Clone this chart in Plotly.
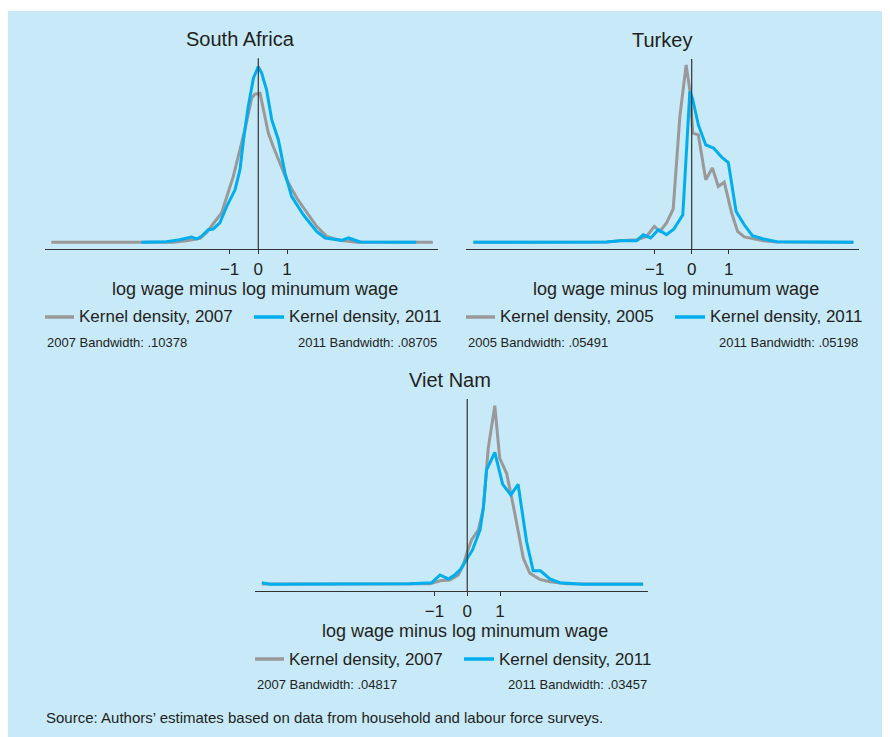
import plotly.graph_objects as go

# ---------------- data ----------------
sa_x_2007 = [-7.21, -2.97, -2.5, -2.03, -1.8, -1.28, -0.87, -0.64, -0.47, -0.23, -0.12, 0.06,
             0.35, 0.52, 0.99, 1.34, 1.69, 2.03, 2.38, 2.85, 3.43, 6.08]
sa_y_2007 = [0, 0, .008, .02, .05, .147, .33, .463, .563, .722, .742, .747,
             .547, .48, .313, .222, .147, .08, .03, .01, 0, 0]
sa_x_2011 = [-4.07, -3.2, -2.73, -2.33, -2.15, -1.98, -1.74, -1.57, -1.34, -1.1, -0.81, -0.64,
             -0.5, -0.35, -0.17, 0.0, 0.12, 0.29, 0.47, 0.7, 0.93, 1.16, 1.57, 2.03, 2.33,
             2.73, 2.91, 3.14, 3.37, 3.55, 5.5]
sa_y_2011 = [0, .003, .013, .027, .017, .03, .063, .067, .097, .18, .263, .363,
             .53, .68, .822, .88, .847, .763, .613, .513, .347, .23, .138, .055, .022,
             .013, .01, .022, .01, .002, 0]

tr_x_2005 = [-5.9, -2.3, -1.94, -1.49, -1.22, -1.01, -0.86, -0.68, -0.5, -0.32, -0.15, -0.05,
             0.03, 0.18, 0.38, 0.56, 0.72, 0.88, 1.08, 1.24, 1.42, 1.67, 1.94, 2.3, 4.37]
tr_y_2005 = [0, .002, .008, .013, .03, .08, .055, .097, .167, .63, .888, .763,
             .547, .538, .313, .372, .28, .302, .147, .055, .027, .018, .008, .002, 0]
tr_x_2011 = [-5.9, -2.3, -1.94, -1.49, -1.31, -1.11, -0.9, -0.68, -0.48, -0.24, -0.05, 0.02,
             0.18, 0.38, 0.59, 0.81, 0.99, 1.2, 1.42, 1.64, 1.94, 2.3, 4.37]
tr_y_2011 = [0, .002, .008, .008, .038, .022, .063, .038, .067, .138, .755, .722,
             .588, .488, .472, .427, .4, .155, .088, .033, .017, .003, 0]

vn_x_2007 = [-6.26, -1.75, -1.14, -0.83, -0.53, -0.27, -0.12, 0, 0.13, 0.34, 0.49, 0.64,
             0.84, 0.99, 1.2, 1.4, 1.71, 1.91, 2.21, 2.52, 3.03, 5.36]
vn_y_2007 = [.002, .003, .003, .018, .022, .047, .097, .163, .222, .272, .38, .68,
             .893, .63, .555, .397, .13, .055, .025, .013, .003, .002]
vn_x_2011 = [-6.26, -6.01, -1.75, -1.09, -0.83, -0.58, -0.38, -0.22, 0, 0.16, 0.39, 0.49,
             0.59, 0.84, 1.08, 1.33, 1.55, 1.81, 2.01, 2.23, 2.52, 2.82, 3.53, 5.36]
vn_y_2011 = [.008, 0, .003, .008, .047, .027, .047, .072, .13, .172, .272, .38,
             .572, .66, .5, .447, .5, .213, .068, .068, .027, .008, 0, 0]

tick_vals = [-1, 0, 1]
tick_text = ["\u22121", "0", "1"]
x_title = "log wage minus log minumum wage"
source_text = "Source: Authors\u2019 estimates based on data from household and labour force surveys."

panels = [
    dict(title="South Africa", xa="x", ya="y",
         xs=(sa_x_2007, sa_y_2007, sa_x_2011, sa_y_2011),
         leg=("Kernel density, 2007", "Kernel density, 2011"),
         bw=("2007 Bandwidth: .10378", "2011 Bandwidth: .08705"),
         px=(45, 438), py=(58.3, 249), xr=(-7.43, 6.26), yr=(-0.0333, 0.9217)),
    dict(title="Turkey", xa="x2", ya="y2",
         xs=(tr_x_2005, tr_y_2005, tr_x_2011, tr_y_2011),
         leg=("Kernel density, 2005", "Kernel density, 2011"),
         bw=("2005 Bandwidth: .05491", "2011 Bandwidth: .05198"),
         px=(466, 859.3), py=(59, 249), xr=(-6.1, 4.53), yr=(-0.0333, 0.9183)),
    dict(title="Viet Nam", xa="x3", ya="y3",
         xs=(vn_x_2007, vn_y_2007, vn_x_2011, vn_y_2011),
         leg=("Kernel density, 2007", "Kernel density, 2011"),
         bw=("2007 Bandwidth: .04817", "2011 Bandwidth: .03457"),
         px=(255, 648), py=(399, 591), xr=(-6.47, 5.51), yr=(-0.0333, 0.9267)),
]

# the page body adds an 8px offset; the figure is sized so it fills the window
OFF = 8
W, H = 890 - OFF, 737 - OFF
FONT = "Liberation Sans, Arial, sans-serif"
TXT = "#231f20"
GRAY = "#999999"
BLUE = "#00aeef"
BG = "#c7e9f8"


def fx(p):
    return (p - OFF) / W


def fy(p):
    return 1 - (p - OFF) / H


fig = go.Figure()
shapes = [dict(type="rect", xref="paper", yref="paper", x0=0, x1=1, y0=0, y1=fy(11),
               fillcolor=BG, line=dict(width=0), layer="below")]
annotations = []
layout_axes = {}

for i, p in enumerate(panels):
    n = "" if i == 0 else str(i + 1)
    gx, gy, bx, by = p["xs"]
    fig.add_trace(go.Scatter(x=gx, y=gy, mode="lines", xaxis=p["xa"], yaxis=p["ya"],
                             line=dict(color=GRAY, width=3), showlegend=False,
                             name=p["leg"][0]))
    fig.add_trace(go.Scatter(x=bx, y=by, mode="lines", xaxis=p["xa"], yaxis=p["ya"],
                             line=dict(color=BLUE, width=3), showlegend=False,
                             name=p["leg"][1]))
    x0, x1 = p["px"]
    y0, y1 = p["py"]
    layout_axes["xaxis" + n] = dict(domain=[fx(x0), fx(x1)], range=list(p["xr"]),
                                    anchor=p["ya"], showgrid=False, zeroline=False,
                                    showline=True, linecolor="#333333", linewidth=1.2,
                                    ticks="outside", ticklen=4, tickwidth=1, tickcolor="#333333",
                                    tickvals=tick_vals, ticktext=tick_text,
                                    tickfont=dict(family=FONT, size=17, color=TXT),
                                    fixedrange=True)
    layout_axes["yaxis" + n] = dict(domain=[fy(y1), fy(y0)], range=list(p["yr"]),
                                    anchor=p["xa"], showgrid=False, zeroline=False,
                                    showline=False, showticklabels=False, ticks="",
                                    fixedrange=True)
    # zero reference line
    shapes.append(dict(type="line", xref=p["xa"], yref=p["ya"] + " domain", x0=0, x1=0,
                       y0=0, y1=1, line=dict(color="#333333", width=1.2)))
    # title
    annotations.append(dict(text=p["title"], xref="paper", yref="paper",
                            x=fx((x0 + x1) / 2 - 1), y=fy(y0 - 19), xanchor="center",
                            yanchor="middle", showarrow=False,
                            font=dict(family=FONT, size=20, color=TXT)))
    # axis title
    annotations.append(dict(text=x_title, xref="paper", yref="paper",
                            x=fx((x0 + x1) / 2 + 13), y=fy(y1 + 40), xanchor="center",
                            yanchor="middle", showarrow=False,
                            font=dict(family=FONT, size=18, color=TXT)))
    # legend
    ly = y1 + 68
    shapes.append(dict(type="line", xref="paper", yref="paper", x0=fx(x0), x1=fx(x0 + 29),
                       y0=fy(ly), y1=fy(ly), line=dict(color=GRAY, width=3.5)))
    annotations.append(dict(text=p["leg"][0], xref="paper", yref="paper",
                            x=fx(x0 + 32), y=fy(ly), xanchor="left", yanchor="middle",
                            showarrow=False, font=dict(family=FONT, size=17, color=TXT)))
    bl = x0 + 209
    shapes.append(dict(type="line", xref="paper", yref="paper", x0=fx(bl), x1=fx(bl + 30),
                       y0=fy(ly), y1=fy(ly), line=dict(color=BLUE, width=3.5)))
    annotations.append(dict(text=p["leg"][1], xref="paper", yref="paper",
                            x=fx(bl + 33), y=fy(ly), xanchor="left", yanchor="middle",
                            showarrow=False, font=dict(family=FONT, size=17, color=TXT)))
    # bandwidth notes
    by_ = y1 + 93
    annotations.append(dict(text=p["bw"][0], xref="paper", yref="paper",
                            x=fx(x0), y=fy(by_), xanchor="left", yanchor="middle",
                            showarrow=False, font=dict(family=FONT, size=13, color=TXT)))
    annotations.append(dict(text=p["bw"][1], xref="paper", yref="paper",
                            x=fx(x1 + 1), y=fy(by_), xanchor="right", yanchor="middle",
                            showarrow=False, font=dict(family=FONT, size=13, color=TXT)))

annotations.append(dict(text=source_text, xref="paper", yref="paper", x=fx(44), y=fy(717),
                        xanchor="left", yanchor="middle", showarrow=False,
                        font=dict(family=FONT, size=15, color=TXT)))

fig.update_layout(width=W, height=H, margin=dict(l=0, r=0, t=0, b=0),
                  paper_bgcolor="white", plot_bgcolor="white",
                  shapes=shapes, annotations=annotations, **layout_axes)

fig.write_html("out.html", config={"displayModeBar": False})
